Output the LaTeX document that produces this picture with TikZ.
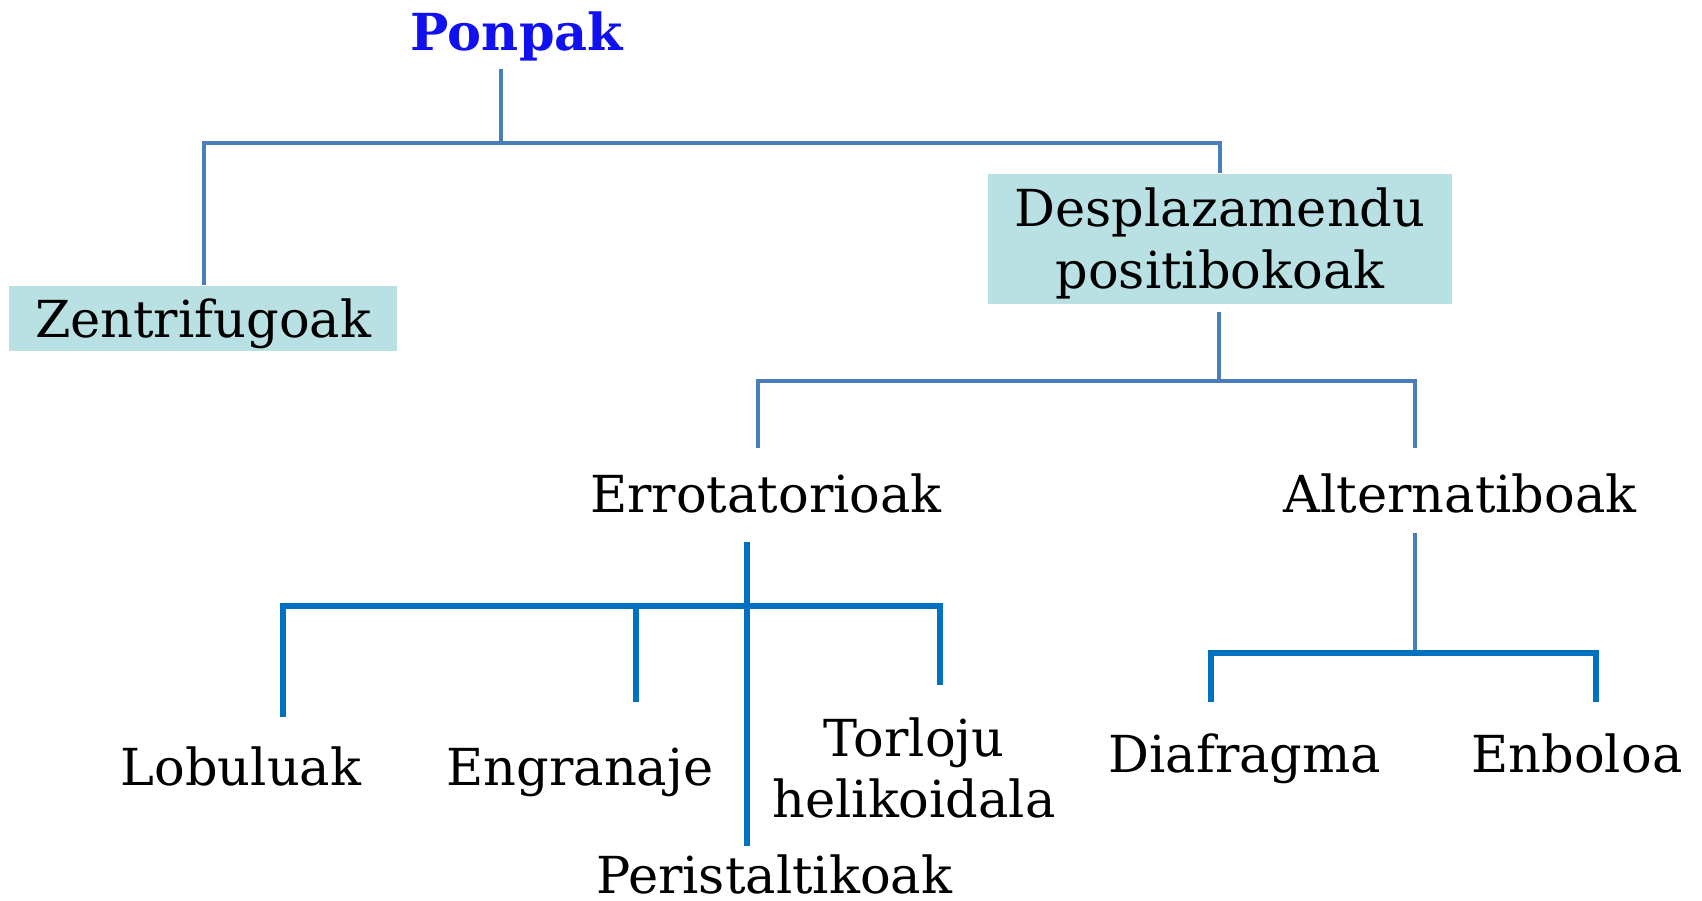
\documentclass[tikz,border=0pt]{standalone}
\usepackage{fontspec}
\setmainfont{DejaVu Serif}

\begin{document}
\begin{tikzpicture}[x=0.01cm, y=-0.01cm,
    font=\fontsize{14.5}{17.6}\selectfont,
    lbl/.style={anchor=base, inner sep=0pt},
    catbox/.style={fill=boxteal, inner sep=0pt, text height=10.6pt, text depth=0pt},
    topline/.style={draw=steelline, line width=1.2pt},
    botline/.style={draw=deepline, line width=1.7pt},
    thinline/.style={draw=steelline, line width=0.9pt}]

    % Define custom colors
    \definecolor{boxteal}{RGB}{185, 224, 227}
    \definecolor{steelline}{RGB}{74, 126, 187}
    \definecolor{deepline}{RGB}{0, 112, 192}
    \definecolor{titleblue}{RGB}{16, 16, 240}

    \useasboundingbox (0,0) rectangle (1702,901);

    % 1. Title and first level
    \node[lbl, font=\fontsize{14.5}{17.6}\selectfont\bfseries, text=titleblue] (ponpak) at (517,51) {Ponpak};
    \node[catbox, minimum width=3.87cm, minimum height=0.65cm] (zent) at (203,318.5) {Zentrifugoak};
    \node[catbox, align=center, text height=28.2pt, minimum width=4.64cm, minimum height=1.30cm]
        (desp) at (1220,239) {Desplazamendu\\positibokoak};

    % 2. Second and third level labels
    \node[lbl] (erro) at (766,513) {Errotatorioak};
    \node[lbl] (alte) at (1460,513) {Alternatiboak};
    \node[lbl] (lobu) at (241,786) {Lobuluak};
    \node[lbl] (engr) at (580,786) {Engranaje};
    \node[lbl, align=center] (torl) at (914,818) {Torloju\\helikoidala};
    \node[lbl] (peri) at (774,894) {Peristaltikoak};
    \node[lbl] (diaf) at (1245,773) {Diafragma};
    \node[lbl] (enbo) at (1577,773) {Enboloa};

    % 3. Free ends and junctions of the brackets
    \coordinate (pTop) at (501,69);
    \coordinate (pJoin) at (501,143);
    \coordinate (dTop) at (1219,312);
    \coordinate (dJoin) at (1219,381);
    \coordinate (erroEnd) at (758,448);
    \coordinate (alteEnd) at (1415,448);
    \coordinate (eTop) at (747,542);
    \coordinate (eBot) at (747,846);
    \coordinate (lobuEnd) at (283,717);
    \coordinate (engrTop) at (636,606);
    \coordinate (engrEnd) at (636,702);
    \coordinate (torlEnd) at (940,685);
    \coordinate (aTop) at (1415,533);
    \coordinate (aJoin) at (1415,653);
    \coordinate (diafEnd) at (1211,702);
    \coordinate (enboEnd) at (1596,702);

    % 4. Connectors
    \draw[topline] (pTop) -- (pJoin);
    \draw[topline] (zent.north -| 204,0) |- (pJoin) -| (desp.north);
    \draw[topline] (dTop) -- (dJoin);
    \draw[topline] (erroEnd) |- (dJoin) -| (alteEnd);

    \draw[botline] (lobuEnd) |- (engrTop) -| (torlEnd);
    \draw[botline] (engrTop) -- (engrEnd);
    \draw[botline] (eTop) -- (eBot);

    \draw[thinline] (aTop) -- (aJoin);
    \draw[botline] (diafEnd) |- (aJoin) -| (enboEnd);

\end{tikzpicture}
\end{document}
